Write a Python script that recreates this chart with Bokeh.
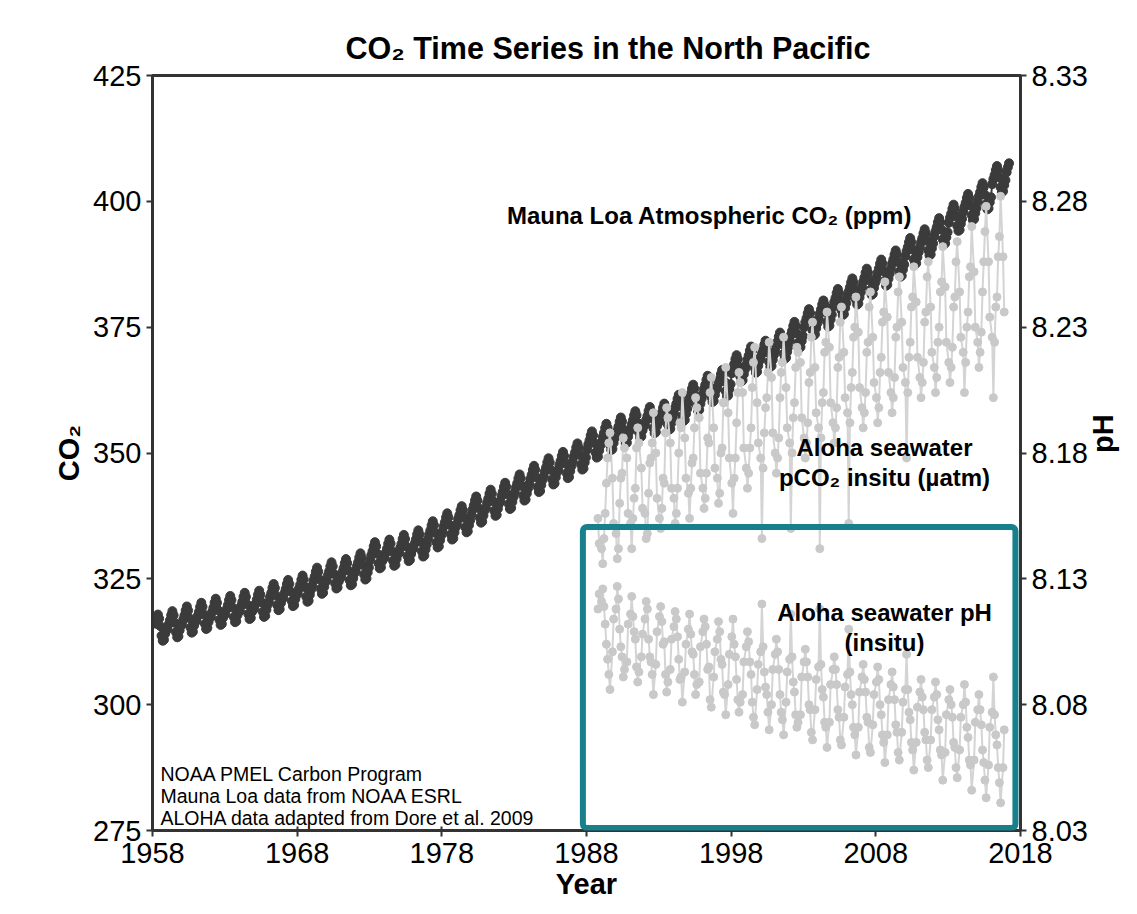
import math
from bokeh.plotting import figure
from bokeh.models import Range1d, LinearAxis, FixedTicker, PrintfTickFormatter, BoxAnnotation, ColumnDataSource, Label
from bokeh.embed import file_html
from bokeh.resources import INLINE

# ---------------- data ----------------
x_ticks = [1958, 1968, 1978, 1988, 1998, 2008, 2018]
co2_ticks = [275, 300, 325, 350, 375, 400, 425]
ph_ticks = [8.03, 8.08, 8.13, 8.18, 8.23, 8.28, 8.33]

# Mauna Loa annual mean CO2 (ppm), 1958-2017
mlo_years = list(range(1958, 2018))
mlo_annual_mean = [315.3, 315.98, 316.91, 317.64, 318.45, 318.99, 319.62, 320.04, 321.37, 322.18,
                   323.05, 324.62, 325.68, 326.32, 327.46, 329.68, 330.19, 331.13, 332.03, 333.84,
                   335.41, 336.84, 338.76, 340.12, 341.48, 343.15, 344.85, 346.35, 347.61, 349.31,
                   351.69, 353.20, 354.45, 355.70, 356.54, 357.21, 358.96, 360.97, 362.74, 363.88,
                   366.84, 368.54, 369.71, 371.32, 373.45, 375.98, 377.70, 379.98, 382.09, 384.02,
                   385.83, 387.64, 390.10, 391.85, 394.06, 396.74, 398.87, 401.01, 404.41, 406.76]
# mean seasonal cycle (ppm offset from the annual mean), Jan..Dec
mlo_seasonal_offset = [-1.0, 0.0, 0.8, 1.8, 2.6, 1.8, 0.3, -1.6, -2.6, -2.4, -1.2, -0.2]
mlo_first_month = 3     # March 1958
mlo_last_month = 3      # March 2017

# HOT / ALOHA cruise months (month index within the year, 0 = January)
aloha_cruise_month = [0.5, 1.5, 2.5, 3.5, 4.5, 5.5, 6.5, 7.5, 9.5, 10.5]
aloha_years = list(range(1988, 2017))
aloha_pco2_by_year = [
    [337, 332],
    [331, 328, 333, 338, 344, 349, 352, 354, 345, 336],
    [334, 329, 331, 340, 345, 346, 353, 351, 349, 338],
    [336, 331, 337, 341, 343, 351, 355, 352, 347, 339],
    [338, 333, 334, 342, 348, 349, 352, 358, 350, 341],
    [337, 335, 339, 345, 344, 354, 359, 357, 352, 343],
    [341, 336, 338, 343, 350, 356, 355, 362, 353, 345],
    [342, 337, 343, 348, 349, 355, 361, 359, 357, 346],
    [343, 339, 341, 346, 353, 352, 362, 365, 355, 347],
    [345, 340, 342, 350, 351, 360, 360, 367, 358, 349],
    [344, 338, 345, 349, 356, 362, 366, 364, 362, 351],
    [347, 343, 346, 351, 355, 363, 368, 371, 360, 352],
    [349, 333, 347, 354, 359, 361, 366, 372, 365, 354],
    [350, 346, 349, 353, 361, 366, 368, 373, 363, 355],
    [352, 335, 350, 357, 360, 367, 371, 370, 368, 357],
    [353, 349, 352, 356, 364, 366, 373, 376, 367, 358],
    [355, 331, 353, 360, 362, 370, 372, 378, 371, 360],
    [356, 352, 355, 359, 367, 369, 376, 379, 370, 361],
    [358, 336, 356, 363, 366, 373, 375, 381, 374, 363],
    [359, 355, 358, 362, 370, 372, 379, 382, 373, 364],
    [361, 356, 359, 366, 369, 376, 378, 384, 377, 366],
    [362, 358, 361, 365, 373, 375, 382, 385, 376, 367],
    [364, 349, 362, 369, 372, 379, 381, 387, 380, 369],
    [365, 361, 364, 368, 376, 378, 385, 388, 379, 370],
    [367, 362, 365, 372, 375, 382, 384, 391, 383, 372],
    [368, 364, 367, 371, 379, 381, 388, 392, 382, 373],
    [370, 362, 368, 375, 378, 385, 387, 395, 386, 375],
    [372, 367, 370, 374, 382, 388, 394, 399, 388, 377],
    [373, 361, 372, 379, 381, 389, 393, 401, 389, 378],
]
aloha_ph_by_year = [
    [8.118, 8.124],
    [8.121, 8.126, 8.119, 8.112, 8.104, 8.098, 8.092, 8.086, 8.101, 8.114],
    [8.118, 8.127, 8.122, 8.110, 8.103, 8.099, 8.091, 8.094, 8.097, 8.112],
    [8.116, 8.123, 8.115, 8.109, 8.106, 8.095, 8.089, 8.093, 8.099, 8.108],
    [8.114, 8.121, 8.118, 8.106, 8.099, 8.097, 8.092, 8.084, 8.096, 8.109],
    [8.115, 8.119, 8.113, 8.104, 8.105, 8.092, 8.085, 8.089, 8.094, 8.106],
    [8.111, 8.117, 8.114, 8.107, 8.098, 8.090, 8.091, 8.081, 8.093, 8.104],
    [8.110, 8.116, 8.108, 8.101, 8.100, 8.092, 8.084, 8.088, 8.089, 8.103],
    [8.109, 8.114, 8.111, 8.104, 8.094, 8.095, 8.082, 8.079, 8.091, 8.101],
    [8.106, 8.113, 8.109, 8.098, 8.096, 8.085, 8.084, 8.076, 8.088, 8.100],
    [8.107, 8.114, 8.104, 8.099, 8.090, 8.082, 8.077, 8.081, 8.084, 8.097],
    [8.103, 8.109, 8.105, 8.097, 8.092, 8.081, 8.075, 8.072, 8.086, 8.096],
    [8.101, 8.120, 8.103, 8.093, 8.087, 8.084, 8.077, 8.070, 8.080, 8.094],
    [8.100, 8.106, 8.101, 8.094, 8.084, 8.077, 8.074, 8.068, 8.081, 8.093],
    [8.098, 8.116, 8.099, 8.089, 8.085, 8.076, 8.071, 8.073, 8.076, 8.091],
    [8.097, 8.102, 8.097, 8.091, 8.080, 8.078, 8.069, 8.066, 8.078, 8.090],
    [8.095, 8.118, 8.096, 8.086, 8.083, 8.073, 8.071, 8.063, 8.073, 8.088],
    [8.094, 8.099, 8.094, 8.088, 8.078, 8.075, 8.066, 8.064, 8.075, 8.087],
    [8.092, 8.110, 8.093, 8.084, 8.080, 8.071, 8.068, 8.060, 8.071, 8.085],
    [8.091, 8.096, 8.090, 8.085, 8.075, 8.073, 8.063, 8.061, 8.072, 8.084],
    [8.089, 8.095, 8.090, 8.080, 8.076, 8.068, 8.065, 8.057, 8.068, 8.082],
    [8.088, 8.093, 8.087, 8.082, 8.072, 8.069, 8.061, 8.058, 8.069, 8.081],
    [8.086, 8.100, 8.086, 8.077, 8.074, 8.065, 8.062, 8.054, 8.065, 8.079],
    [8.085, 8.090, 8.083, 8.078, 8.069, 8.066, 8.058, 8.055, 8.066, 8.078],
    [8.083, 8.089, 8.084, 8.074, 8.070, 8.062, 8.060, 8.050, 8.061, 8.076],
    [8.082, 8.086, 8.080, 8.075, 8.065, 8.063, 8.055, 8.051, 8.062, 8.075],
    [8.080, 8.088, 8.081, 8.071, 8.067, 8.058, 8.056, 8.046, 8.058, 8.073],
    [8.078, 8.084, 8.078, 8.072, 8.062, 8.057, 8.050, 8.043, 8.056, 8.071],
    [8.077, 8.091, 8.076, 8.068, 8.064, 8.055, 8.049, 8.041, 8.055, 8.070],
]

# ---------------- build tables ----------------
mlo_t, mlo_v = [], []
for yr, mean in zip(mlo_years, mlo_annual_mean):
    for m in range(12):
        if yr == mlo_years[0] and m < mlo_first_month - 1:
            continue
        if yr == mlo_years[-1] and m > mlo_last_month - 1:
            continue
        mlo_t.append(yr + (m + 0.5) / 12.0)
        mlo_v.append(mean + mlo_seasonal_offset[m])

def aloha_table(by_year):
    t, v = [], []
    for yr, vals in zip(aloha_years, by_year):
        months = aloha_cruise_month[-len(vals):]
        for mo, val in zip(months, vals):
            t.append(yr + mo / 12.0)
            v.append(val)
    return t, v

pco2_t, pco2_v = aloha_table(aloha_pco2_by_year)
ph_t, ph_v = aloha_table(aloha_ph_by_year)

mlo_src = ColumnDataSource(dict(t=mlo_t, v=mlo_v))
pco2_src = ColumnDataSource(dict(t=pco2_t, v=pco2_v))
ph_src = ColumnDataSource(dict(t=ph_t, v=ph_v))

# ---------------- figure ----------------
FONT = "Liberation Sans"
DARK = "#3b3b3b"
LIGHT = "#c9c9c9"
LIGHT_LINE = "#d4d4d4"
AXIS = "#333333"

p = figure(width=1137, height=912, output_backend="svg", toolbar_location=None,
           x_range=Range1d(1958, 2018), y_range=Range1d(275, 425),
           min_border_left=152, min_border_right=117, min_border_top=75, min_border_bottom=82)
p.extra_y_ranges = {"ph": Range1d(8.03, 8.33)}

p.title.text = "CO₂ Time Series in the North Pacific"
p.title.align = "left"
p.title.offset = 193
p.title.text_font = FONT
p.title.text_font_size = "30.5px"
p.title.text_font_style = "bold"
p.title.text_color = "black"
p.title.standoff = 21

p.xgrid.visible = False
p.ygrid.visible = False
p.outline_line_color = AXIS
p.outline_line_width = 3
p.background_fill_color = "white"
p.border_fill_color = "white"

ax_r = LinearAxis(y_range_name="ph", axis_label="pH")
p.add_layout(ax_r, "right")

p.xaxis.ticker = FixedTicker(ticks=x_ticks)
p.yaxis[0].ticker = FixedTicker(ticks=co2_ticks)
ax_r.ticker = FixedTicker(ticks=ph_ticks)
ax_r.formatter = PrintfTickFormatter(format="%.2f")
p.xaxis.axis_label = "Year"
p.yaxis[0].axis_label = "CO₂"

for ax in [p.xaxis[0], p.yaxis[0], ax_r]:
    ax.axis_line_color = AXIS
    ax.axis_line_width = 3
    ax.major_tick_line_color = AXIS
    ax.major_tick_line_width = 2
    ax.major_tick_out = 6
    ax.major_tick_in = 0
    ax.minor_tick_line_color = None
    ax.major_label_text_font = FONT
    ax.major_label_text_font_size = "29px"
    ax.major_label_text_color = "black"
    ax.axis_label_text_font = FONT
    ax.axis_label_text_font_size = "29px"
    ax.axis_label_text_font_style = "bold"
    ax.axis_label_text_color = "black"
p.xaxis.major_tick_in = 4
p.xaxis.major_label_standoff = 6
p.xaxis.axis_label_standoff = 2
# right axis title reads bottom-to-top, like the left one
ax_r.axis_label_orientation = math.pi / 2
ax_r.axis_label_standoff = 12
ax_r.axis_label_text_baseline = "bottom"

# Mauna Loa
p.line("t", "v", source=mlo_src, line_color=DARK, line_width=2)
p.scatter("t", "v", source=mlo_src, size=9, fill_color=DARK, line_color=DARK)

# ALOHA pCO2 and pH
p.line("t", "v", source=pco2_src, line_color=LIGHT_LINE, line_width=2)
p.scatter("t", "v", source=pco2_src, size=8, fill_color=LIGHT, line_color=LIGHT)
p.line("t", "v", source=ph_src, line_color=LIGHT_LINE, line_width=2, y_range_name="ph")
p.scatter("t", "v", source=ph_src, size=8, fill_color=LIGHT, line_color=LIGHT, y_range_name="ph")

# highlight box
p.add_layout(BoxAnnotation(left=1987.75, right=2017.65, bottom=275.5, top=335.3,
                           fill_alpha=0, line_color="#17808a", line_alpha=1.0,
                           line_width=6, border_radius=4))

# labels
def add_label(x, y, text, size, bold=True, align="center"):
    p.add_layout(Label(x=x, y=y, text=text, text_font=FONT, text_font_size=size,
                       text_font_style="bold" if bold else "normal", text_color="black",
                       text_align=align, text_baseline="middle"))

add_label(1982.5, 397.2, "Mauna Loa Atmospheric CO₂ (ppm)", "24px", align="left")
add_label(2008.6, 351.1, "Aloha seawater", "24px")
add_label(2008.6, 345.1, "pCO₂ insitu (µatm)", "24px")
add_label(2008.6, 318.3, "Aloha seawater pH", "24px")
add_label(2008.6, 312.3, "(insitu)", "24px")
add_label(1958.55, 286.3, "NOAA PMEL Carbon Program", "19.5px", bold=False, align="left")
add_label(1958.55, 281.9, "Mauna Loa data from NOAA ESRL", "19.5px", bold=False, align="left")
add_label(1958.55, 277.4, "ALOHA data adapted from Dore et al. 2009", "19.5px", bold=False, align="left")

open("out.html", "w").write(file_html(p, INLINE))
